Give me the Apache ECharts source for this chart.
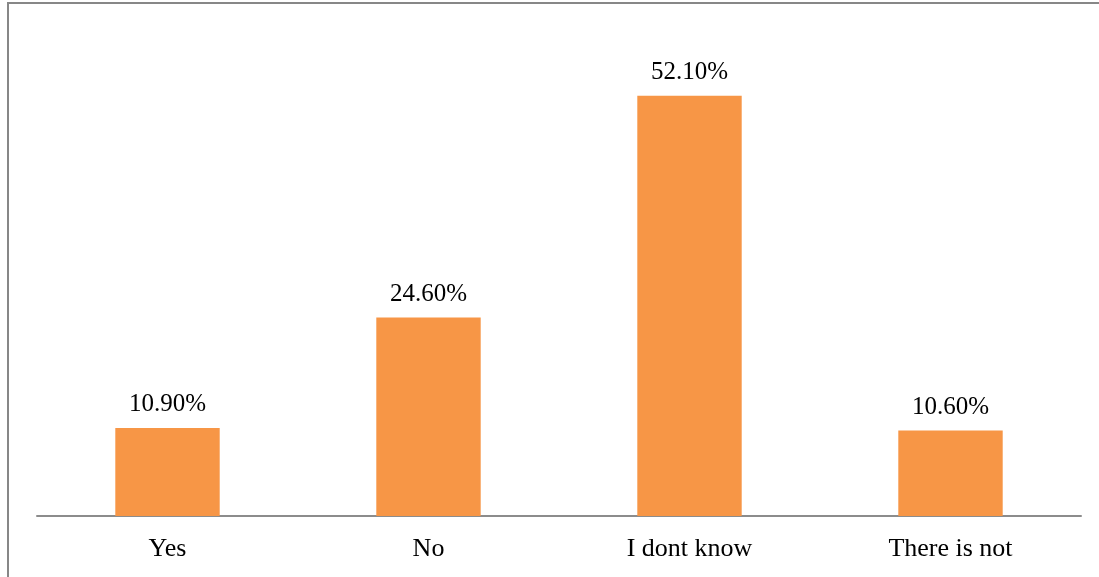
<!DOCTYPE html>
<html>
<head>
<meta charset="utf-8">
<script src="https://cdn.jsdelivr.net/npm/echarts@6/dist/echarts.min.js"></script>
<style>
html,body{margin:0;padding:0;background:#fff;}
#chart{width:1099px;height:577px;}
</style>
</head>
<body>
<div id="chart"></div>
<script>
const categories = ['Yes', 'No', 'I dont know', 'There is not'];
const values = [10.9, 24.6, 52.1, 10.6];

const chart = echarts.init(document.getElementById('chart'), null, {renderer: 'canvas'});
chart.setOption({
  animation: false,
  backgroundColor: '#ffffff',
  graphic: [{
    type: 'rect',
    shape: {x: 8, y: 3, width: 1200, height: 700},
    style: {fill: 'none', stroke: '#878787', lineWidth: 2},
    silent: true
  }],
  grid: {left: 37, right: 18, top: 32, bottom: 61, containLabel: false},
  xAxis: {
    type: 'category',
    data: categories,
    axisLine: {show: true, lineStyle: {color: '#8c8c8c', width: 2}},
    axisTick: {show: false},
    axisLabel: {
      color: '#000',
      fontFamily: 'Liberation Serif, Times New Roman, serif',
      fontSize: 26,
      margin: 20
    }
  },
  yAxis: {
    type: 'value',
    min: 0,
    max: 60,
    show: false,
    splitLine: {show: false}
  },
  series: [{
    type: 'bar',
    data: values,
    barWidth: '40%',
    itemStyle: {color: '#F79646'},
    label: {
      show: true,
      position: 'top',
      distance: 11,
      color: '#000',
      fontFamily: 'Liberation Serif, Times New Roman, serif',
      fontSize: 25,
      formatter: p => p.value.toFixed(2) + '%'
    }
  }]
});
</script>
</body>
</html>
